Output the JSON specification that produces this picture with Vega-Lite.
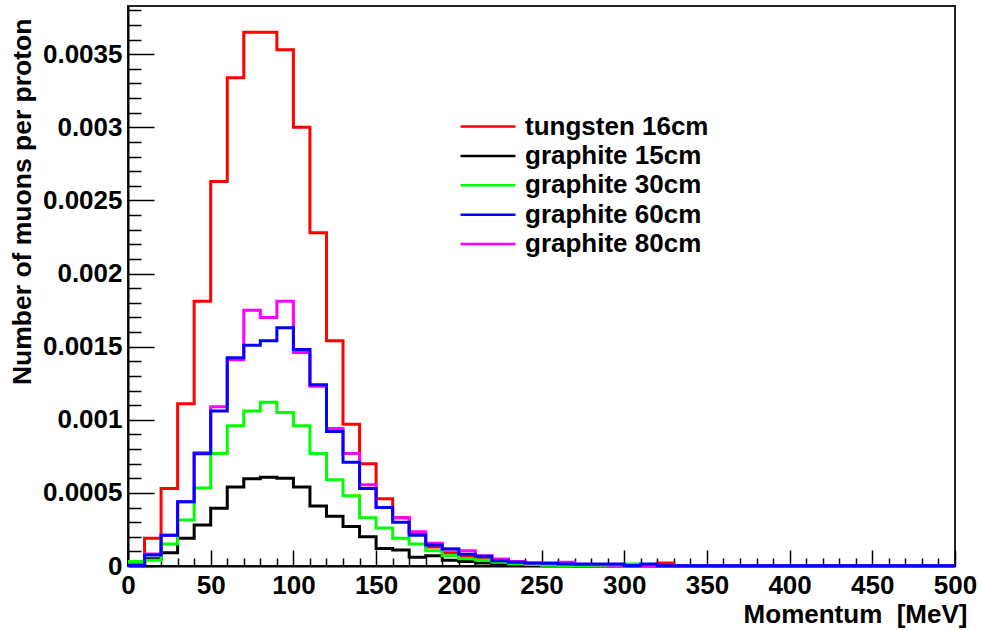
{
  "$schema": "https://vega.github.io/schema/vega-lite/v6.json",
  "autosize": {"type": "none"},
  "width": 827,
  "height": 560,
  "padding": {"left": 128, "top": 6, "right": 26, "bottom": 64},
  "background": "white",
  "config": {
    "view": {"stroke": "#222", "strokeWidth": 2},
    "font": "Liberation Sans"
  },
  "data": {"values": [
    {"p": 0, "w16": 0.00003, "g15": 0.000005, "g30": 0.00003, "g60": 0.000003, "g80": 0.00001},
    {"p": 10, "w16": 0.00019, "g15": 0.00005, "g30": 0.00004, "g60": 0.000075, "g80": 0.000082},
    {"p": 20, "w16": 0.00053, "g15": 0.00009, "g30": 0.00015, "g60": 0.00021, "g80": 0.00021},
    {"p": 30, "w16": 0.00111, "g15": 0.00019, "g30": 0.000315, "g60": 0.00044, "g80": 0.00044},
    {"p": 40, "w16": 0.00181, "g15": 0.00028, "g30": 0.000534, "g60": 0.000767, "g80": 0.000774},
    {"p": 50, "w16": 0.00263, "g15": 0.000395, "g30": 0.00077, "g60": 0.00106, "g80": 0.00109},
    {"p": 60, "w16": 0.00334, "g15": 0.00054, "g30": 0.00096, "g60": 0.001425, "g80": 0.00141},
    {"p": 70, "w16": 0.00365, "g15": 0.000596, "g30": 0.00106, "g60": 0.00151, "g80": 0.00175},
    {"p": 80, "w16": 0.00365, "g15": 0.000607, "g30": 0.00112, "g60": 0.00154, "g80": 0.0017},
    {"p": 90, "w16": 0.00353, "g15": 0.0006, "g30": 0.00105, "g60": 0.00163, "g80": 0.00181},
    {"p": 100, "w16": 0.003, "g15": 0.00054, "g30": 0.00096, "g60": 0.00148, "g80": 0.00146},
    {"p": 110, "w16": 0.00228, "g15": 0.00041, "g30": 0.00077, "g60": 0.00124, "g80": 0.00123},
    {"p": 120, "w16": 0.00154, "g15": 0.00034, "g30": 0.00059, "g60": 0.00092, "g80": 0.00094},
    {"p": 130, "w16": 0.00097, "g15": 0.00027, "g30": 0.00048, "g60": 0.00071, "g80": 0.00077},
    {"p": 140, "w16": 0.0007, "g15": 0.0002, "g30": 0.00033, "g60": 0.00053, "g80": 0.000555},
    {"p": 150, "w16": 0.00046, "g15": 0.00012, "g30": 0.00026, "g60": 0.0004, "g80": 0.0004},
    {"p": 160, "w16": 0.00033, "g15": 0.00011, "g30": 0.00019, "g60": 0.0003, "g80": 0.00033},
    {"p": 170, "w16": 0.00022, "g15": 0.00006, "g30": 0.00015, "g60": 0.00021, "g80": 0.000235},
    {"p": 180, "w16": 0.00013, "g15": 0.00007, "g30": 0.000105, "g60": 0.000144, "g80": 0.000155},
    {"p": 190, "w16": 0.00009, "g15": 0.00004, "g30": 0.00007, "g60": 0.000116, "g80": 0.000116},
    {"p": 200, "w16": 0.000064, "g15": 0.00003, "g30": 0.00005, "g60": 0.00008, "g80": 0.000105},
    {"p": 210, "w16": 0.00005, "g15": 0.00002, "g30": 0.00004, "g60": 0.000066, "g80": 0.00007},
    {"p": 220, "w16": 0.00003, "g15": 0.000015, "g30": 0.000025, "g60": 0.000036, "g80": 0.000048},
    {"p": 230, "w16": 0.00002, "g15": 0.00001, "g30": 0.000015, "g60": 0.000025, "g80": 0.00003},
    {"p": 240, "w16": 0.000015, "g15": 0.00001, "g30": 0.00001, "g60": 0.00002, "g80": 0.00002},
    {"p": 250, "w16": 0.00001, "g15": 0.000005, "g30": 0.000005, "g60": 0.000018, "g80": 0.00002},
    {"p": 260, "w16": 0.00001, "g15": 0.000003, "g30": 0.000003, "g60": 0.000014, "g80": 0.000025},
    {"p": 270, "w16": 0.000005, "g15": 0.000002, "g30": 0.000002, "g60": 0.000014, "g80": 0.00001},
    {"p": 280, "w16": 0.000005, "g15": 0.000002, "g30": 0.000001, "g60": 0.000014, "g80": 0.000008},
    {"p": 290, "w16": 0.000003, "g15": 0.000001, "g30": 0.000002, "g60": 0.000014, "g80": 0.000005},
    {"p": 300, "w16": 0.000003, "g15": 0.000001, "g30": 0.000014, "g60": 0.000004, "g80": 0.000003},
    {"p": 310, "w16": 0.000003, "g15": 0.000001, "g30": 0.000002, "g60": 0.000014, "g80": 0.000002},
    {"p": 320, "w16": 0.00002, "g15": 0, "g30": 0, "g60": 0.000002, "g80": 0.000001},
    {"p": 330, "w16": 0, "g15": 0, "g30": 0, "g60": 0.000002, "g80": 0},
    {"p": 340, "w16": 0, "g15": 0, "g30": 0, "g60": 0.000002, "g80": 0},
    {"p": 350, "w16": 0, "g15": 0, "g30": 0, "g60": 0.000002, "g80": 0},
    {"p": 360, "w16": 0, "g15": 0, "g30": 0, "g60": 0.000002, "g80": 0},
    {"p": 370, "w16": 0, "g15": 0, "g30": 0, "g60": 0.000002, "g80": 0},
    {"p": 380, "w16": 0, "g15": 0, "g30": 0, "g60": 0.000002, "g80": 0},
    {"p": 390, "w16": 0, "g15": 0, "g30": 0, "g60": 0.000002, "g80": 0},
    {"p": 400, "w16": 0, "g15": 0, "g30": 0, "g60": 0.000002, "g80": 0},
    {"p": 410, "w16": 0, "g15": 0, "g30": 0, "g60": 0.000002, "g80": 0},
    {"p": 420, "w16": 0, "g15": 0, "g30": 0, "g60": 0.000002, "g80": 0},
    {"p": 430, "w16": 0, "g15": 0, "g30": 0, "g60": 0.000002, "g80": 0},
    {"p": 440, "w16": 0, "g15": 0, "g30": 0, "g60": 0.000002, "g80": 0},
    {"p": 450, "w16": 0, "g15": 0, "g30": 0, "g60": 0.000002, "g80": 0},
    {"p": 460, "w16": 0, "g15": 0, "g30": 0, "g60": 0.000002, "g80": 0},
    {"p": 470, "w16": 0, "g15": 0, "g30": 0, "g60": 0.000002, "g80": 0},
    {"p": 480, "w16": 0, "g15": 0, "g30": 0, "g60": 0.000002, "g80": 0},
    {"p": 490, "w16": 0, "g15": 0, "g30": 0, "g60": 0.000002, "g80": 0},
    {"p": 500, "w16": 0, "g15": 0, "g30": 0, "g60": 0.000002, "g80": 0}
  ]},
  "transform": [
    {"fold": ["w16", "g15", "g30", "g60", "g80"], "as": ["k", "v"]}
  ],
  "encoding": {
    "x": {
      "field": "p", "type": "quantitative",
      "scale": {"domain": [0, 500], "nice": false, "zero": false},
      "axis": {
        "title": "Momentum\u00a0\u00a0[MeV]",
        "values": [0,10,20,30,40,50,60,70,80,90,100,110,120,130,140,150,160,170,180,190,200,210,220,230,240,250,260,270,280,290,300,310,320,330,340,350,360,370,380,390,400,410,420,430,440,450,460,470,480,490,500],
        "labelExpr": "datum.value % 50 === 0 ? datum.label : ''",
        "tickSize": {"condition": {"test": "datum.value % 50 === 0", "value": -16}, "value": -8},
        "tickColor": "black",
        "tickWidth": 1.5,
        "domainColor": "black",
        "domainWidth": 2,
        "grid": false,
        "labelFlush": false,
        "labelOverlap": false,
        "labelFont": "Liberation Sans",
        "labelFontWeight": "bold",
        "labelFontSize": 26,
        "labelColor": "black",
        "labelPadding": 22,
        "titleFont": "Liberation Sans",
        "titleFontWeight": "bold",
        "titleFontSize": 26,
        "titleColor": "black",
        "titleAnchor": "end",
        "titleAlign": "right",
        "titleBaseline": "alphabetic",
        "titleX": 839,
        "titleY": 56
      }
    },
    "y": {
      "field": "v", "type": "quantitative",
      "scale": {"domain": [0, 0.00383], "nice": false, "zero": true},
      "axis": {
        "title": "Number of muons per proton",
        "values": [0,0.0001,0.0002,0.0003,0.0004,0.0005,0.0006,0.0007,0.0008,0.0009,0.001,0.0011,0.0012,0.0013,0.0014,0.0015,0.0016,0.0017,0.0018,0.0019,0.002,0.0021,0.0022,0.0023,0.0024,0.0025,0.0026,0.0027,0.0028,0.0029,0.003,0.0031,0.0032,0.0033,0.0034,0.0035,0.0036,0.0037,0.0038],
        "labelExpr": "round(datum.value*10000) % 5 === 0 ? format(datum.value, '~g') : ''",
        "tickSize": {"condition": {"test": "round(datum.value*10000) % 5 === 0", "value": -26}, "value": -13},
        "tickColor": "black",
        "tickWidth": 1.5,
        "domainColor": "black",
        "domainWidth": 2,
        "grid": false,
        "labelFlush": false,
        "labelOverlap": false,
        "labelFont": "Liberation Sans",
        "labelFontWeight": "bold",
        "labelFontSize": 26,
        "labelColor": "black",
        "labelPadding": 32,
        "titleFont": "Liberation Sans",
        "titleFontWeight": "bold",
        "titleFontSize": 26.5,
        "titleColor": "black",
        "titleAngle": -90,
        "titleAnchor": "end",
        "titleAlign": "right",
        "titleBaseline": "alphabetic",
        "titleX": -98,
        "titleY": 12
      }
    },
    "color": {
      "field": "k", "type": "nominal",
      "scale": {"domain": ["w16", "g15", "g30", "g60", "g80"], "range": ["#ff0000", "#000000", "#00ff00", "#0000ff", "#ff00ff"]},
      "legend": {
        "title": null,
        "orient": "none",
        "legendX": 331,
        "legendY": 108,
        "symbolType": "stroke",
        "symbolSize": 3025,
        "symbolStrokeWidth": 2.5,
        "clipHeight": 25,
        "rowPadding": 2.4,
        "labelOffset": 8,
        "labelLimit": 0,
        "labelFont": "Liberation Sans",
        "labelFontWeight": "bold",
        "labelFontSize": 26,
        "labelColor": "black",
        "padding": 0,
        "labelExpr": "{'w16': 'tungsten 16cm', 'g15': 'graphite 15cm', 'g30': 'graphite 30cm', 'g60': 'graphite 60cm', 'g80': 'graphite 80cm'}[datum.label]"
      }
    }
  },
  "layer": [
    {"transform": [{"filter": "datum.k === 'w16'"}], "mark": {"type": "line", "interpolate": "step-after", "strokeWidth": 3}},
    {"transform": [{"filter": "datum.k === 'g15'"}], "mark": {"type": "line", "interpolate": "step-after", "strokeWidth": 3}},
    {"transform": [{"filter": "datum.k === 'g30'"}], "mark": {"type": "line", "interpolate": "step-after", "strokeWidth": 3}},
    {"transform": [{"filter": "datum.k === 'g80'"}], "mark": {"type": "line", "interpolate": "step-after", "strokeWidth": 3}},
    {"transform": [{"filter": "datum.k === 'g60'"}], "mark": {"type": "line", "interpolate": "step-after", "strokeWidth": 3}}
  ]
}
